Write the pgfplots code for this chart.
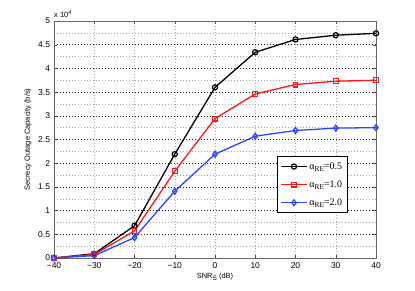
\documentclass[border=0pt]{standalone}
\usepackage{fontspec}
\setmainfont{Liberation Sans}
\newfontfamily\serif{Liberation Serif}
\usepackage{pgfplots}
\pgfplotsset{compat=1.18}
\definecolor{myblue}{RGB}{40,70,255}
\definecolor{myred}{RGB}{255,20,20}
\newcommand{\lab}[1]{{\serif α\raisebox{-0.5ex}{\fontsize{7.5}{8}\selectfont RE}=#1}}
\begin{document}
\begin{tikzpicture}
\path[use as bounding box] (-54bp,-33bp) rectangle (361bp,258bp);
\begin{axis}[
  at={(0,0)}, anchor=south west,
  scale only axis, width=322bp, height=237bp,
  xmin=-40, xmax=40, ymin=0, ymax=50000,
  xtick={-40,-30,...,40},
  xticklabels={−40,−30,−20,−10,0,10,20,30,40},
  ytick={0,5000,...,50000},
  yticklabels={0,0.5,1,1.5,2,2.5,3,3.5,4,4.5,5},
  scaled y ticks=false,
  minor y tick num=1,
  minor tick length=0pt,
  major tick length=3bp,
  tick align=inside,
  tick style={black!70, line width=0.4pt},
  xmajorgrids, ymajorgrids, yminorgrids,
  x grid style={dash pattern=on 0.6bp off 2.4bp, black!35, line width=0.5pt},
  y grid style={dash pattern=on 0.7bp off 2.3bp, black!90, line width=0.6pt},
  minor y grid style={dash pattern=on 0.6bp off 2.4bp, black!35, line width=0.5pt},
  axis line style={black!60, line width=0.8pt},
  tick label style={font=\fontsize{8.5}{9}\selectfont},
  xticklabel style={yshift=-1.5bp},
  yticklabel style={xshift=-0.5bp},
  xlabel={SNR\raisebox{-0.45ex}{\fontsize{6.5}{7}\selectfont S} (dB)},
  ylabel={Secrecy Outage Capacity (b/s)},
  label style={font=\fontsize{7.5}{8}\selectfont},
  xlabel style={yshift=3bp},
  ylabel style={yshift=0bp},
  legend style={at={(0.693,0.43)}, anchor=north west, draw=black, line width=0.8pt,
    font=\fontsize{10}{11}\selectfont, row sep=6bp, inner xsep=3bp, inner ysep=4bp,
    cells={anchor=west}},
  legend image code/.code={\draw[mark repeat=2,mark phase=2] plot coordinates {(0cm,0cm) (0.45cm,0cm) (0.9cm,0cm)};},
  every axis plot/.append style={line width=1.3pt},
  clip=false,
]
\addplot[black, mark=o, mark size=2.6bp, mark options={solid, line width=1.2pt}] coordinates {
(-40,0) (-30,900) (-20,6800) (-10,21900) (0,36000) (10,43400) (20,46100) (30,47000) (40,47400)};
\addlegendentry{\lab{0.5}}
\addplot[myred, mark=square, mark size=2.4bp, mark options={solid, line width=1.2pt}] coordinates {
(-40,0) (-30,750) (-20,5700) (-10,18300) (0,29400) (10,34600) (20,36600) (30,37300) (40,37500)};
\addlegendentry{\lab{1.0}}
\addplot[myblue, mark=diamond, mark size=3bp, mark options={solid, line width=1.2pt}] coordinates {
(-40,0) (-30,500) (-20,4300) (-10,14100) (0,21900) (10,25700) (20,26900) (30,27400) (40,27500)};
\addlegendentry{\lab{2.0}}
\node[anchor=south west, font=\fontsize{7.5}{8}\selectfont, inner sep=0pt] at (rel axis cs:0,1.015) {x 10\raisebox{0.8ex}{\fontsize{5.5}{6}\selectfont 4}};
\end{axis}
\end{tikzpicture}
\end{document}
